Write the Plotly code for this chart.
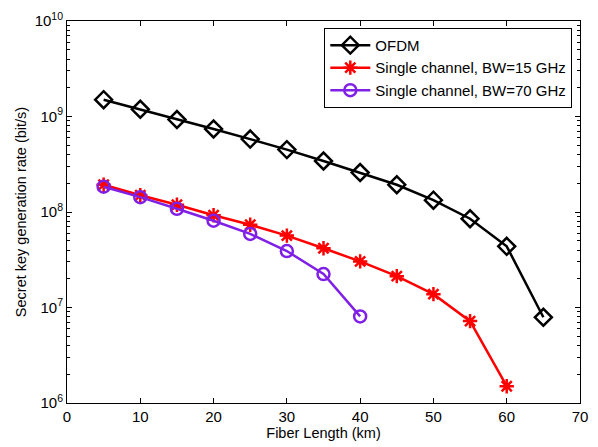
import plotly.graph_objects as go

# Fiber length (km)
length_ofdm = [5, 10, 15, 20, 25, 30, 35, 40, 45, 50, 55, 60, 65]
length_bw15 = [5, 10, 15, 20, 25, 30, 35, 40, 45, 50, 55, 60]
length_bw70 = [5, 10, 15, 20, 25, 30, 35, 40]

# Secret key generation rate (bit/s)
rate_ofdm = [1.5e9, 1.19e9, 9.3e8, 7.4e8, 5.8e8, 4.5e8, 3.42e8, 2.59e8,
             1.93e8, 1.33e8, 8.5e7, 4.37e7, 7.9e6]
rate_bw15 = [1.93e8, 1.5e8, 1.19e8, 9.25e7, 7.35e7, 5.66e7, 4.17e7, 3.04e7,
             2.13e7, 1.38e7, 7.2e6, 1.5e6]
rate_bw70 = [1.84e8, 1.43e8, 1.08e8, 8.1e7, 5.9e7, 3.9e7, 2.24e7, 8.07e6]

series_names = ["OFDM", "Single channel, BW=15 GHz", "Single channel, BW=70 GHz"]

x_ticks = [0, 10, 20, 30, 40, 50, 60, 70]
y_ticks = [1e6, 1e7, 1e8, 1e9, 1e10]
y_tick_text = ["10<sup>6</sup>", "10<sup>7</sup>", "10<sup>8</sup>",
               "10<sup>9</sup>", "10<sup>10</sup>"]

PURPLE = "#8020E6"
FONT = "Liberation Sans, Arial, sans-serif"

fig = go.Figure()
fig.add_trace(go.Scatter(
    x=length_ofdm, y=rate_ofdm, name=series_names[0], mode="lines+markers",
    line=dict(color="black", width=2.5),
    marker=dict(symbol="diamond-open", size=13, color="black",
                line=dict(width=2.5, color="black")),
))
fig.add_trace(go.Scatter(
    x=length_bw15, y=rate_bw15, name=series_names[1], mode="lines+markers",
    line=dict(color="red", width=2.5),
    marker=dict(symbol="asterisk-open", size=12, color="red",
                line=dict(width=2.5, color="red")),
))
fig.add_trace(go.Scatter(
    x=length_bw70, y=rate_bw70, name=series_names[2], mode="lines+markers",
    line=dict(color=PURPLE, width=2.5),
    marker=dict(symbol="circle-open", size=12, color=PURPLE,
                line=dict(width=2.5, color=PURPLE)),
))

fig.update_layout(
    width=598, height=447,
    margin=dict(l=67, r=10, t=19, b=42),
    paper_bgcolor="white", plot_bgcolor="white",
    font=dict(family=FONT, size=14.5, color="black"),
    showlegend=True,
    legend=dict(
        x=0.985, y=0.982, xanchor="right", yanchor="top",
        bgcolor="white", bordercolor="black", borderwidth=1,
        font=dict(family=FONT, size=15, color="black"),
        tracegroupgap=0, itemwidth=40,
    ),
    xaxis=dict(
        range=[0, 70], tickvals=x_ticks, ticks="inside", ticklen=5,
        tickwidth=1, tickcolor="black", showline=True, linecolor="black",
        linewidth=1, mirror="ticks", showgrid=False, zeroline=False,
        title=dict(text="Fiber Length (km)", standoff=2,
                   font=dict(family=FONT, size=14.5)),
        tickfont=dict(family=FONT, size=15),
    ),
    yaxis=dict(
        type="log", range=[6, 10], tickvals=y_ticks, ticktext=y_tick_text,
        ticks="inside", ticklen=5, tickwidth=1, tickcolor="black",
        showline=True, linecolor="black", linewidth=1, mirror="ticks",
        showgrid=False, zeroline=False,
        minor=dict(ticks="inside", ticklen=3, tickcolor="black",
                   dtick="D1", showgrid=False),
        title=dict(text="Secret key generation rate (bit/s)", standoff=4,
                   font=dict(family=FONT, size=14.5)),
        tickfont=dict(family=FONT, size=15),
    ),
)

fig.write_html("out.html")
